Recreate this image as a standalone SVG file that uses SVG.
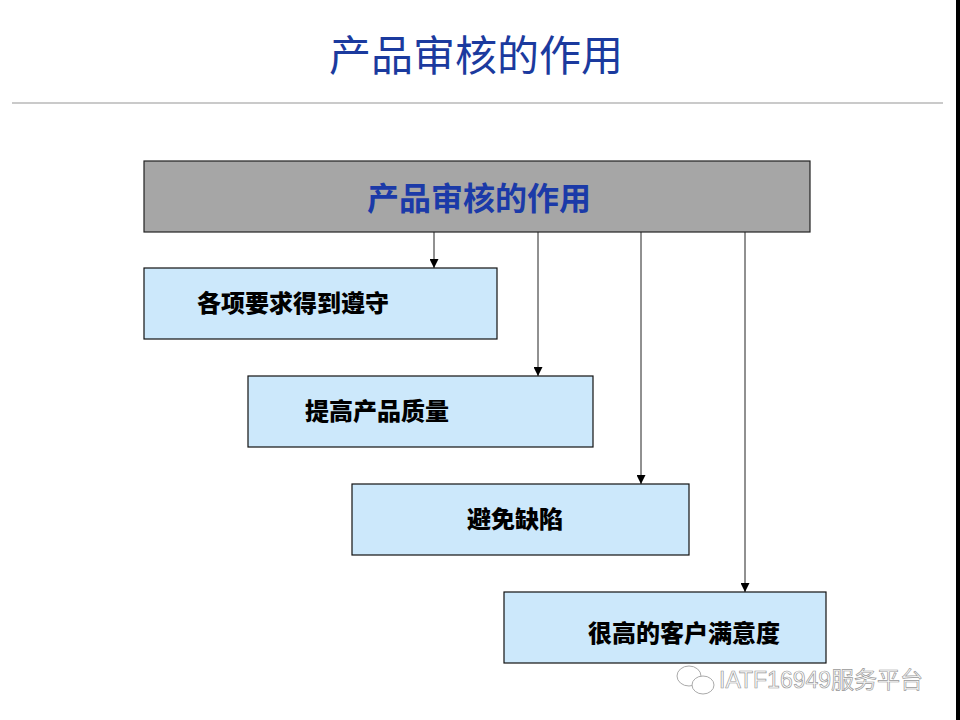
<svg xmlns="http://www.w3.org/2000/svg" width="960" height="720" viewBox="0 0 960 720">
<defs>
<marker id="ah" viewBox="0 0 10 10" refX="10" refY="5" markerWidth="9" markerHeight="9" markerUnits="userSpaceOnUse" orient="auto">
<path d="M0,0 L10,5 L0,10 z" fill="#000"/>
</marker>
<style>
.cjk{font-family:"Liberation Sans","Noto Sans CJK SC",sans-serif}
.box{fill:#cce8fb;stroke:#111;stroke-width:1.2}
.lbl{font-size:24px;font-weight:900;fill:#000}
.con{stroke:#222;stroke-width:1;fill:none;marker-end:url(#ah)}
</style>
</defs>
<rect width="960" height="720" fill="#fff"/>
<rect x="956" y="0" width="4" height="720" fill="#000"/>
<text class="cjk" x="476" y="71" font-size="42" fill="#1b3a9e" text-anchor="middle">产品审核的作用</text>
<line x1="12" y1="103" x2="943" y2="103" stroke="#b8b8b8" stroke-width="1.5"/>
<g id="top">
<rect x="144" y="161" width="666" height="71" fill="#a6a6a6" stroke="#222" stroke-width="1.2"/>
<text class="cjk" x="479" y="210" font-size="32" font-weight="bold" fill="#1b3aa8" text-anchor="middle">产品审核的作用</text>
</g>
<g id="connectors">
<line class="con" x1="434" y1="232" x2="434" y2="268"/>
<line class="con" x1="538" y1="232" x2="538" y2="376"/>
<line class="con" x1="641" y1="232" x2="641" y2="484"/>
<line class="con" x1="745" y1="232" x2="745" y2="592"/>
</g>
<g id="n1">
<rect class="box" x="144" y="268" width="353" height="71"/>
<text class="cjk lbl" x="197" y="312">各项要求得到遵守</text>
</g>
<g id="n2">
<rect class="box" x="248" y="376" width="345" height="71"/>
<text class="cjk lbl" x="305" y="420">提高产品质量</text>
</g>
<g id="n3">
<rect class="box" x="352" y="484" width="337" height="71"/>
<text class="cjk lbl" x="467" y="528">避免缺陷</text>
</g>
<g id="n4">
<rect class="box" x="504" y="592" width="322" height="71"/>
<text class="cjk lbl" x="588" y="642">很高的客户满意度</text>
</g>
<g id="watermark">
<ellipse cx="689" cy="676" rx="12" ry="10" fill="#fff" stroke="#aaa" stroke-width="1"/>
<ellipse cx="703" cy="685" rx="11" ry="9" fill="#fff" stroke="#aaa" stroke-width="1"/>
<text class="cjk" x="719" y="688" font-size="23" fill="#fff" stroke="#999" stroke-width="0.7">IATF16949服务平台</text>
</g>
</svg>
